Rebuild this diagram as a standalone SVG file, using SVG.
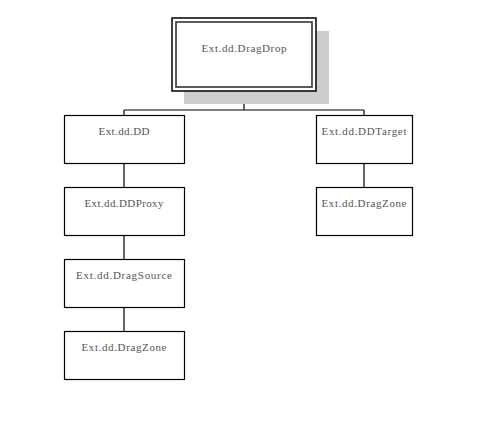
<svg xmlns="http://www.w3.org/2000/svg" width="495" height="424" viewBox="0 0 495 424">
<style>
.box{fill:#fff;stroke:#000;stroke-width:1.2}
.t{font-family:"Liberation Serif","Noto Serif",serif;font-size:11px;fill:#555;text-anchor:middle}
.c{fill:none;stroke:#000;stroke-width:1.2}
</style>
<rect width="495" height="424" fill="#fff"/>
<g id="connectors">
<path class="c" d="M244 91V110M124 110H364M124 110V115M364 110V115M124 163V187M124 235V259M124 307V331M364 163V187"/>
</g>
<g id="n-dragdrop">
<rect x="184" y="31" width="145" height="73" fill="#cccccc"/>
<rect x="172" y="18" width="144" height="73" fill="#fff" stroke="#000" stroke-width="1.5"/>
<rect x="176" y="22" width="136" height="65" fill="none" stroke="#333" stroke-width="1.6"/>
<text class="t" x="244" y="52" textLength="85" lengthAdjust="spacing">Ext.dd.DragDrop</text>
</g>
<g id="n-dd">
<rect class="box" x="64.5" y="115.5" width="120" height="48"/>
<text class="t" x="124" y="135" textLength="51" lengthAdjust="spacing">Ext.dd.DD</text>
</g>
<g id="n-ddproxy">
<rect class="box" x="64.5" y="187.5" width="120" height="48"/>
<text class="t" x="124" y="207" textLength="79" lengthAdjust="spacing">Ext.dd.DDProxy</text>
</g>
<g id="n-dragsource">
<rect class="box" x="64.5" y="259.5" width="120" height="48"/>
<text class="t" x="124" y="279" textLength="96" lengthAdjust="spacing">Ext.dd.DragSource</text>
</g>
<g id="n-dragzone-left">
<rect class="box" x="64.5" y="331.5" width="120" height="48"/>
<text class="t" x="124" y="351" textLength="85" lengthAdjust="spacing">Ext.dd.DragZone</text>
</g>
<g id="n-ddtarget">
<rect class="box" x="316.5" y="115.5" width="96" height="48"/>
<text class="t" x="364" y="135" textLength="85" lengthAdjust="spacing">Ext.dd.DDTarget</text>
</g>
<g id="n-dragzone-right">
<rect class="box" x="316.5" y="187.5" width="96" height="48"/>
<text class="t" x="364" y="207" textLength="85" lengthAdjust="spacing">Ext.dd.DragZone</text>
</g>
</svg>
